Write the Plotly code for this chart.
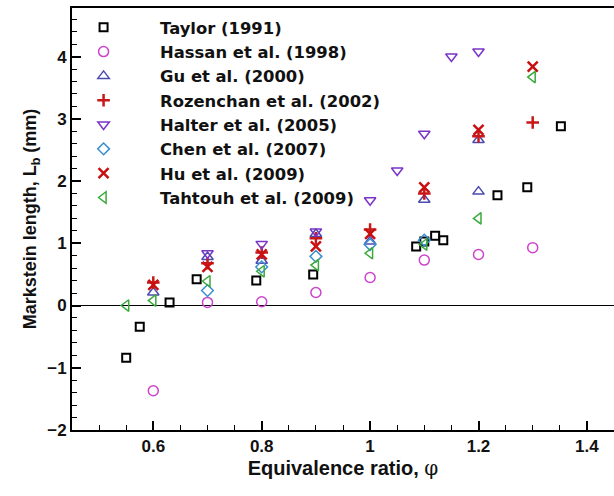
import plotly.graph_objects as go

taylor_x = [0.55, 0.575, 0.63, 0.68, 0.79, 0.895, 1.085, 1.10, 1.12, 1.135, 1.235, 1.29, 1.352]
taylor_y = [-0.84, -0.34, 0.05, 0.42, 0.40, 0.50, 0.95, 1.03, 1.12, 1.05, 1.77, 1.90, 2.88]

hassan_x = [0.6, 0.7, 0.8, 0.9, 1.0, 1.1, 1.2, 1.3]
hassan_y = [-1.37, 0.05, 0.06, 0.21, 0.45, 0.73, 0.82, 0.93]

gu_x = [0.6, 0.7, 0.8, 0.9, 1.0, 1.1, 1.2, 1.2]
gu_y = [0.21, 0.78, 0.72, 1.15, 1.03, 1.70, 1.83, 2.66]

rozenchan_x = [0.6, 0.7, 0.8, 0.9, 1.0, 1.1, 1.2, 1.3]
rozenchan_y = [0.37, 0.68, 0.85, 1.08, 1.22, 1.80, 2.72, 2.94]

halter_x = [0.7, 0.8, 0.9, 1.0, 1.05, 1.1, 1.15, 1.2]
halter_y = [0.84, 0.99, 1.19, 1.69, 2.17, 2.76, 4.0, 4.08]

chen_x = [0.7, 0.8, 0.9, 1.0, 1.1]
chen_y = [0.24, 0.62, 0.79, 0.98, 1.05]

hu_x = [0.6, 0.7, 0.8, 0.9, 1.0, 1.1, 1.2, 1.3]
hu_y = [0.33, 0.62, 0.82, 0.95, 1.15, 1.90, 2.82, 3.84]

tahtouh_x = [0.55, 0.6, 0.7, 0.8, 0.9, 1.0, 1.1, 1.2, 1.3]
tahtouh_y = [0.0, 0.08, 0.39, 0.55, 0.65, 0.84, 0.98, 1.40, 3.67]

series = [
    ("Taylor (1991)", taylor_x, taylor_y, "square-open", "#000000", 8, 2),
    ("Hassan et al. (1998)", hassan_x, hassan_y, "circle-open", "#cc44cc", 10, 1.5),
    ("Gu et al. (2000)", gu_x, gu_y, "triangle-up-open", "#4b4bb0", 10, 1.5),
    ("Rozenchan et al. (2002)", rozenchan_x, rozenchan_y, "cross-thin-open", "#c81818", 9, 2.5),
    ("Halter et al. (2005)", halter_x, halter_y, "triangle-down-open", "#7a35c8", 10, 1.5),
    ("Chen et al. (2007)", chen_x, chen_y, "diamond-open", "#3a8fd0", 9, 1.5),
    ("Hu et al. (2009)", hu_x, hu_y, "x-thin-open", "#c81010", 10, 2.5),
    ("Tahtouh et al. (2009)", tahtouh_x, tahtouh_y, "triangle-left-open", "#3aaa3a", 10, 1.5),
]

fig = go.Figure()
for name, xs, ys, sym, col, sz, lw in series:
    fig.add_trace(go.Scatter(
        x=xs, y=ys, mode="markers", name=name,
        marker=dict(symbol=sym, size=sz, color=col, line=dict(color=col, width=lw)),
    ))

font_fam = "Arial, Liberation Sans, sans-serif"
legend_fam = "DejaVu Sans, Arial, sans-serif"

fig.update_layout(
    width=614, height=496,
    margin=dict(l=72, r=0, t=8, b=66),
    paper_bgcolor="white", plot_bgcolor="white",
    font=dict(family=font_fam, color="#111111"),
    showlegend=True,
    legend=dict(
        x=-0.046, y=0.995, xanchor="left", yanchor="top",
        bgcolor="rgba(0,0,0,0)",
        font=dict(size=16.4, family=legend_fam, weight="bold", color="#111111"),
        itemwidth=103, tracegroupgap=0,
    ),
    xaxis=dict(
        range=[0.45, 1.45], showgrid=False, zeroline=False,
        showline=True, linecolor="black", linewidth=2, mirror=True,
        tickmode="array", tickvals=[0.6, 0.8, 1.0, 1.2, 1.4],
        ticktext=["0.6", "0.8", "1", "1.2", "1.4"],
        ticks="inside", ticklen=9, tickwidth=2, tickcolor="black",
        minor=dict(dtick=0.05, tick0=0.45, ticks="inside", ticklen=5, tickwidth=1, tickcolor="black"),
        tickfont=dict(size=17, family=font_fam, weight="bold", color="#111111"),
        title=dict(text="Equivalence ratio, <span style='font-family:DejaVu Serif, serif;font-weight:normal'>φ</span>",
                   font=dict(size=20, family=font_fam, weight="bold", color="#111111"), standoff=6),
    ),
    yaxis=dict(
        range=[-2, 4.78], showgrid=False,
        zeroline=True, zerolinecolor="black", zerolinewidth=1.2,
        showline=True, linecolor="black", linewidth=2, mirror=False,
        tickmode="linear", tick0=0, dtick=1,
        ticks="inside", ticklen=9, tickwidth=2, tickcolor="black",
        minor=dict(dtick=0.2, ticks="inside", ticklen=5, tickwidth=1, tickcolor="black"),
        tickfont=dict(size=17, family=font_fam, weight="bold", color="#111111"),
        title=dict(text="Markstein length, L<sub>b</sub> (mm)",
                   font=dict(size=18, family=font_fam, weight="bold", color="#111111"), standoff=6),
    ),
)

fig.write_html("out.html")
